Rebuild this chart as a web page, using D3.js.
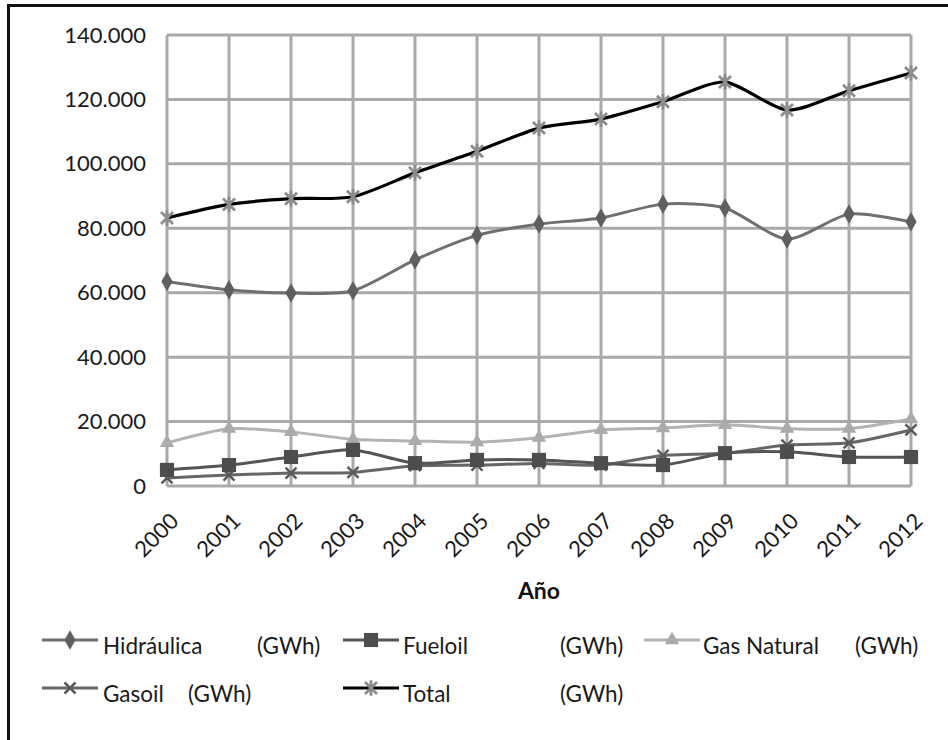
<!DOCTYPE html>
<html>
<head>
<meta charset="utf-8">
<script src="https://cdn.jsdelivr.net/npm/d3@7"></script>
<style>
  html, body { margin: 0; padding: 0; background: #fff; }
  svg { display: block; font-family: Lato, "Open Sans", sans-serif; }
</style>
</head>
<body>
<svg id="chart" width="948" height="740"></svg>
<script>
// Generación eléctrica por fuente, 2000-2012 (GWh)
const years = ["2000","2001","2002","2003","2004","2005","2006","2007","2008","2009","2010","2011","2012"];
const hidraulica = [63500, 60900, 59900, 60600, 70200, 77800, 81300, 83200, 87500, 86300, 76700, 84400, 82000];
const fueloil    = [5000, 6500, 9000, 11200, 7100, 8100, 8100, 7100, 6500, 10200, 10600, 9000, 9000];
const gasNatural = [13400, 17800, 16800, 14500, 14000, 13600, 15000, 17400, 18000, 19000, 17800, 17800, 20800];
const gasoil     = [2500, 3400, 4000, 4200, 6300, 6500, 7000, 6500, 9500, 10200, 12700, 13400, 17400];
const total      = [83200, 87400, 89200, 89800, 97200, 103900, 111100, 113900, 119300, 125400, 116700, 122700, 128200];
const yTicks = [0, 20000, 40000, 60000, 80000, 100000, 120000, 140000];
const seriesNames = ["Hidráulica", "Fueloil", "Gas Natural", "Gasoil", "Total"];
const unit = "(GWh)";

const svg = d3.select("#chart");

// frame around the chart
svg.append("rect")
  .attr("x", 8.5).attr("y", 5.5)
  .attr("width", 960).attr("height", 760)
  .attr("fill", "none").attr("stroke", "#111").attr("stroke-width", 3);

const plot = { left: 167, right: 911, top: 35, bottom: 486 };

const x = d3.scalePoint().domain(years).range([plot.left, plot.right]);
const y = d3.scaleLinear().domain([0, 140000]).range([plot.bottom, plot.top]);

const es = d3.formatLocale({ decimal: ",", thousands: ".", grouping: [3], currency: ["", " €"] });
const fmt = es.format(",.0f");

const gridColor = "#a9a9a9";
const textColor = "#1a1a1a";

// horizontal gridlines
svg.append("g")
  .selectAll("line").data(yTicks).join("line")
  .attr("x1", plot.left).attr("x2", plot.right)
  .attr("y1", d => y(d)).attr("y2", d => y(d))
  .attr("stroke", gridColor).attr("stroke-width", 3);

// vertical gridlines
svg.append("g")
  .selectAll("line").data(years).join("line")
  .attr("x1", d => x(d)).attr("x2", d => x(d))
  .attr("y1", plot.top).attr("y2", plot.bottom)
  .attr("stroke", gridColor).attr("stroke-width", 3);

// y axis
const yAxis = svg.append("g")
  .attr("transform", `translate(${plot.left},0)`)
  .call(d3.axisLeft(y).tickValues(yTicks).tickSize(0).tickPadding(21).tickFormat(fmt));
yAxis.select(".domain").remove();
yAxis.selectAll("text")
  .attr("font-family", "Lato, sans-serif")
  .attr("font-size", 22).attr("fill", textColor);

// x axis
const xAxis = svg.append("g")
  .attr("transform", `translate(0,${plot.bottom})`)
  .call(d3.axisBottom(x).tickSize(0));
xAxis.select(".domain").remove();
xAxis.selectAll("text")
  .attr("font-family", "Lato, sans-serif")
  .attr("font-size", 22).attr("fill", textColor)
  .attr("text-anchor", "end")
  .attr("dy", "0.35em")
  .attr("transform", "translate(7,31) rotate(-45)")
  .attr("y", 0).attr("x", 0);

// x axis title
svg.append("text")
  .attr("x", (plot.left + plot.right) / 2).attr("y", 599)
  .attr("text-anchor", "middle")
  .attr("font-family", "Lato, sans-serif")
  .attr("font-size", 23).attr("font-weight", "bold").attr("fill", "#111")
  .text("Año");

// marker shapes
const starPath = s => `M${-s},${-s}L${s},${s}M${-s},${s}L${s},${-s}M0,${-s*1.3}L0,${s*1.3}`;
const timesPath = s => `M${-s},${-s}L${s},${s}M${-s},${s}L${s},${-s}`;

const series = [
  { name: seriesNames[0], values: hidraulica, line: "#6f6f6f", mark: "#5f5f5f", width: 3, shape: "diamond" },
  { name: seriesNames[1], values: fueloil,    line: "#555555", mark: "#4d4d4d", width: 3, shape: "square" },
  { name: seriesNames[2], values: gasNatural, line: "#b3b3b3", mark: "#ababab", width: 3, shape: "triangle" },
  { name: seriesNames[3], values: gasoil,     line: "#666666", mark: "#5a5a5a", width: 3, shape: "times" },
  { name: seriesNames[4], values: total,      line: "#000000", mark: "#8c8c8c", width: 3.2, shape: "star" }
];

function drawMarker(g, s, cx, cy) {
  if (s.shape === "diamond") {
    g.append("path").attr("d", d3.symbol(d3.symbolDiamond, 110)())
      .attr("transform", `translate(${cx},${cy})`).attr("fill", s.mark);
  } else if (s.shape === "square") {
    g.append("path").attr("d", d3.symbol(d3.symbolSquare, 200)())
      .attr("transform", `translate(${cx},${cy})`).attr("fill", s.mark);
  } else if (s.shape === "triangle") {
    g.append("path").attr("d", d3.symbol(d3.symbolTriangle, 90)())
      .attr("transform", `translate(${cx},${cy})`).attr("fill", s.mark);
  } else if (s.shape === "times") {
    g.append("path").attr("d", timesPath(5.5))
      .attr("transform", `translate(${cx},${cy})`)
      .attr("fill", "none").attr("stroke", s.mark).attr("stroke-width", 2.5);
  } else if (s.shape === "star") {
    g.append("path").attr("d", starPath(6))
      .attr("transform", `translate(${cx},${cy})`)
      .attr("fill", "none").attr("stroke", s.mark).attr("stroke-width", 2.8);
  }
}

const line = d3.line()
  .x((d, i) => x(years[i]))
  .y(d => y(d))
  .curve(d3.curveCardinal.tension(0.25));

// lighter series first so the darker ones sit on top
const drawOrder = [2, 3, 1, 0, 4];
drawOrder.forEach(k => {
  const s = series[k];
  const g = svg.append("g");
  g.append("path").datum(s.values)
    .attr("d", line)
    .attr("fill", "none").attr("stroke", s.line)
    .attr("stroke-width", s.width).attr("stroke-linejoin", "round");
  s.values.forEach((v, i) => drawMarker(g, s, x(years[i]), y(v)));
});

// legend
const legendItems = [
  { s: series[0], lx: 42, ly: 640, tx: 103, ux: 257 },
  { s: series[1], lx: 343, ly: 640, tx: 403, ux: 560 },
  { s: series[2], lx: 644, ly: 640, tx: 703, ux: 855 },
  { s: series[3], lx: 42, ly: 688, tx: 103, ux: 188 },
  { s: series[4], lx: 343, ly: 688, tx: 403, ux: 560 }
];
const lg = svg.append("g");
legendItems.forEach(it => {
  const g = lg.append("g");
  g.append("line")
    .attr("x1", it.lx).attr("x2", it.lx + 56)
    .attr("y1", it.ly).attr("y2", it.ly)
    .attr("stroke", it.s.line).attr("stroke-width", it.s.width);
  drawMarker(g, it.s, it.lx + 28, it.ly);
  g.append("text")
    .attr("x", it.tx).attr("y", it.ly + 14)
    .attr("font-family", "Lato, sans-serif").attr("font-size", 22.5).attr("fill", textColor)
    .text(it.s.name);
  g.append("text")
    .attr("x", it.ux).attr("y", it.ly + 14)
    .attr("font-family", "Lato, sans-serif").attr("font-size", 22.5).attr("fill", textColor)
    .text(unit);
});
</script>
</body>
</html>
